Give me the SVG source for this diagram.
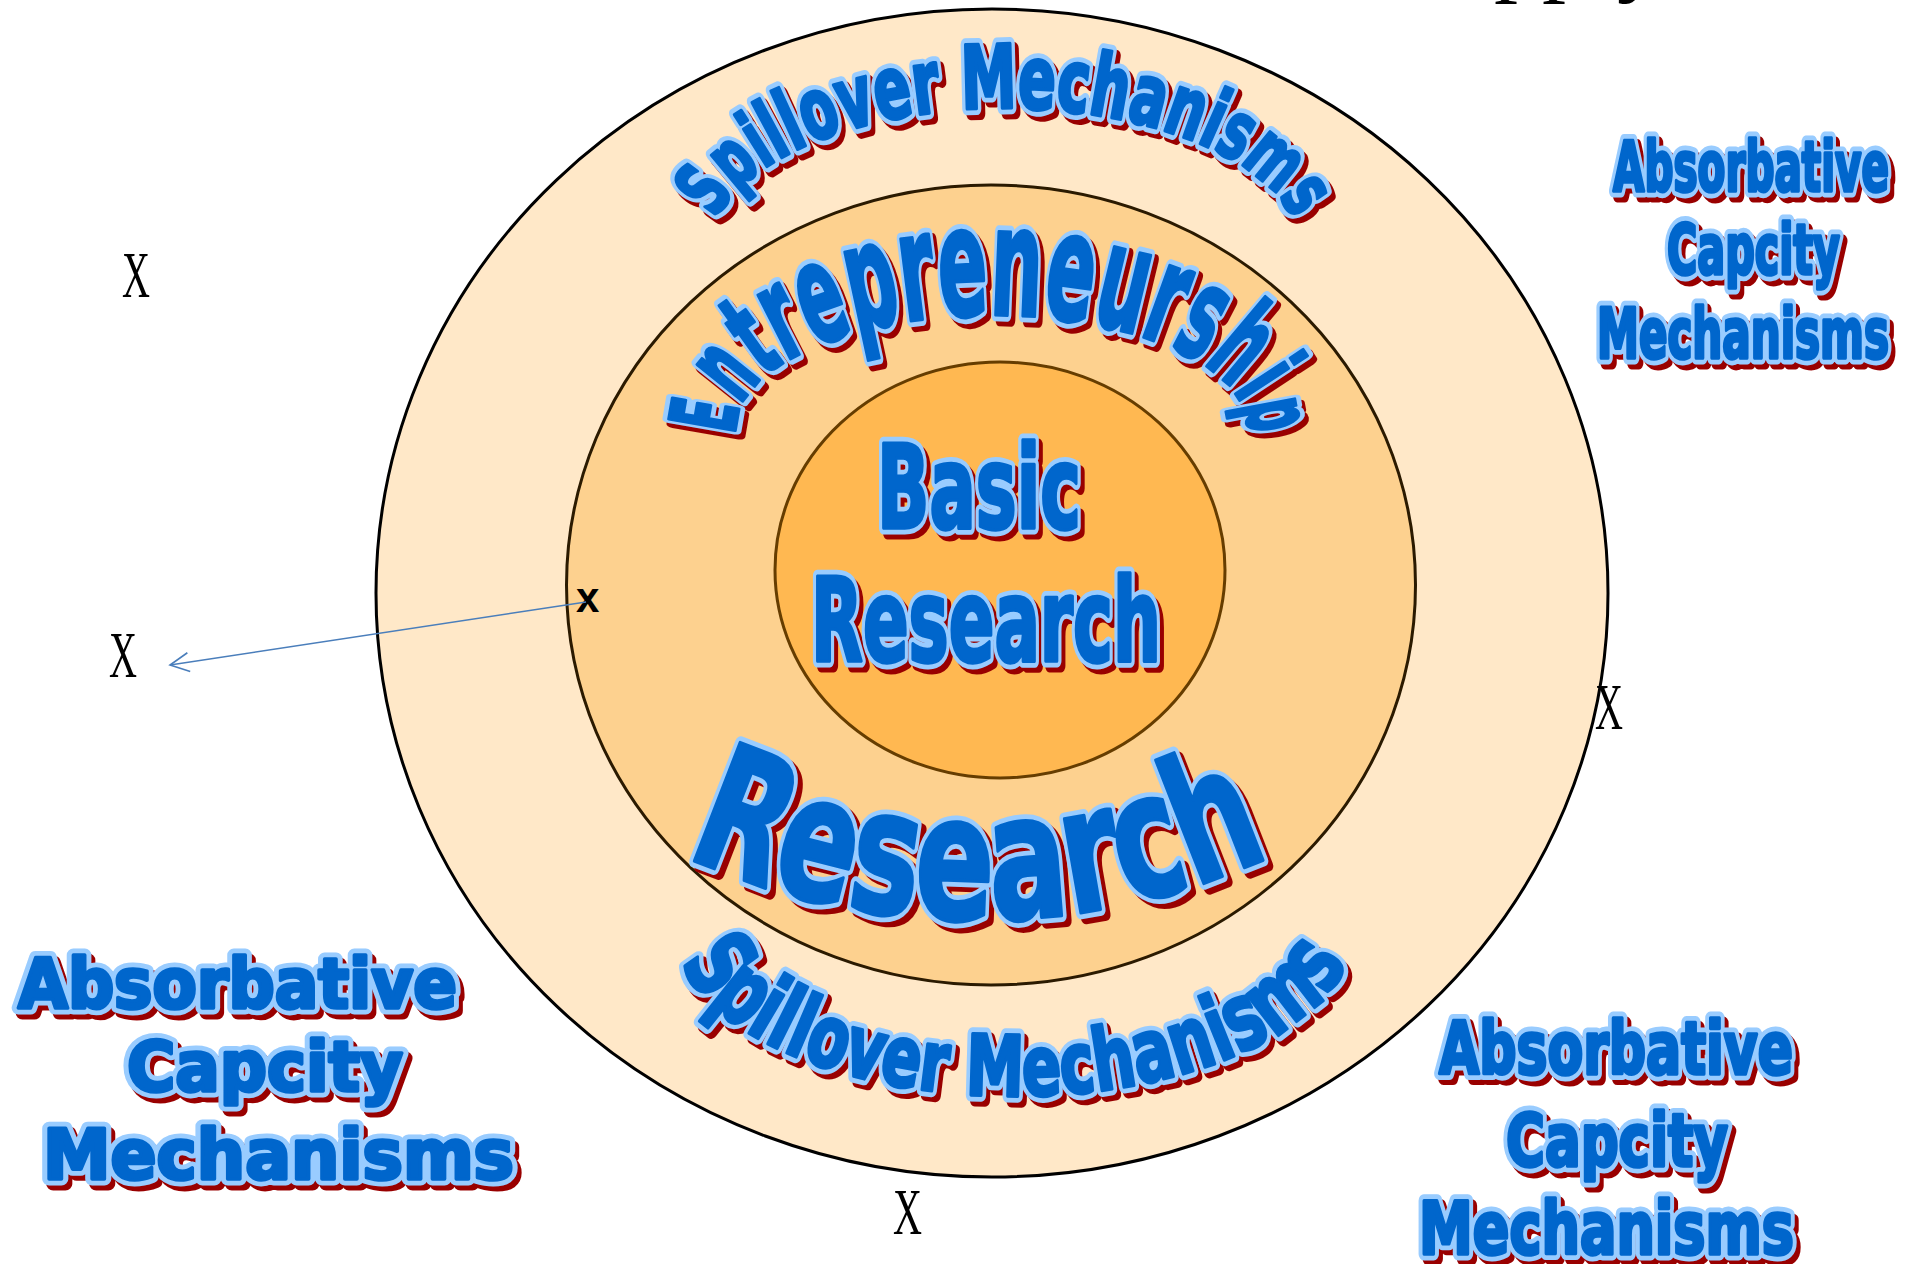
<svg xmlns="http://www.w3.org/2000/svg" width="1907" height="1264" viewBox="0 0 1907 1264">
<style>
  .wa { font-family: "DejaVu Sans Condensed", "DejaVu Sans", "Liberation Sans", sans-serif; font-weight: bold; }
  .shadow { fill: #990000; stroke: #990000; stroke-width: 13; stroke-linejoin: round; }
  .halo { fill: #99CCFF; stroke: #99CCFF; stroke-width: 13; stroke-linejoin: round; }
  .face { fill: #0066CC; stroke: #0066CC; stroke-width: 3.5; stroke-linejoin: round; }
  .mark { font-family: "Liberation Serif", "Times New Roman", serif; font-size: 66px; fill: #000; }
  .ring { stroke-width: 3; }
  .link { fill: none; stroke: #4A7EBB; stroke-width: 1.6; }
</style>
<defs>
  <!-- baselines for the curved captions -->
  <path id="arc-spill-top" d="M 708 253 A 297 145 0 0 1 1302 253"/>
  <path id="arc-entre" d="M 736 429 A 256 114 0 0 1 1248 429"/>
  <path id="arc-research" d="M 576.5 793.4 A 700 700 0 0 0 1379.5 793.4"/>
  <path id="arc-spill-bottom" d="M 673.5 927 A 340.5 169 0 0 0 1354.5 927"/>

  <marker id="open-arrow" markerUnits="userSpaceOnUse" viewBox="-22 -12 24 24" markerWidth="24" markerHeight="24" refX="0" refY="0" orient="auto">
    <path d="M -19 -9.5 L 0 0 L -19 9.5" fill="none" stroke="#4A7EBB" stroke-width="1.6"/>
  </marker>

  <!-- caption shapes, painted three times each (shadow, halo, face) -->
  <text id="txt-spill-top" class="wa" text-anchor="middle"><textPath href="#arc-spill-top" startOffset="50%" textLength="645" lengthAdjust="spacingAndGlyphs"><tspan font-size="76">S</tspan><tspan font-size="78">p</tspan><tspan font-size="80">i</tspan><tspan font-size="82">l</tspan><tspan font-size="84">l</tspan><tspan font-size="85">o</tspan><tspan font-size="86">v</tspan><tspan font-size="87">e</tspan><tspan font-size="88">r</tspan><tspan font-size="88"> </tspan><tspan font-size="88">M</tspan><tspan font-size="88">e</tspan><tspan font-size="87">c</tspan><tspan font-size="86">h</tspan><tspan font-size="85">a</tspan><tspan font-size="84">n</tspan><tspan font-size="82">i</tspan><tspan font-size="80">s</tspan><tspan font-size="78">m</tspan><tspan font-size="76">s</tspan></textPath></text>
  <text id="txt-entre" class="wa" text-anchor="middle"><textPath href="#arc-entre" startOffset="50%" textLength="615" lengthAdjust="spacingAndGlyphs"><tspan font-size="92">E</tspan><tspan font-size="106">n</tspan><tspan font-size="119">t</tspan><tspan font-size="130">r</tspan><tspan font-size="139">e</tspan><tspan font-size="146">p</tspan><tspan font-size="150">r</tspan><tspan font-size="152">e</tspan><tspan font-size="152">n</tspan><tspan font-size="150">e</tspan><tspan font-size="146">u</tspan><tspan font-size="139">r</tspan><tspan font-size="130">s</tspan><tspan font-size="119">h</tspan><tspan font-size="106">i</tspan><tspan font-size="92">p</tspan></textPath></text>
  <text id="txt-research" class="wa" font-size="174" text-anchor="middle"><textPath href="#arc-research" startOffset="50%" textLength="605" lengthAdjust="spacingAndGlyphs">Research</textPath></text>
  <text id="txt-spill-bottom" class="wa" text-anchor="middle"><textPath href="#arc-spill-bottom" startOffset="50%" textLength="750" lengthAdjust="spacingAndGlyphs"><tspan font-size="96">S</tspan><tspan font-size="94">p</tspan><tspan font-size="92">i</tspan><tspan font-size="90">l</tspan><tspan font-size="88">l</tspan><tspan font-size="87">o</tspan><tspan font-size="86">v</tspan><tspan font-size="85">e</tspan><tspan font-size="84">r</tspan><tspan font-size="84"> </tspan><tspan font-size="84">M</tspan><tspan font-size="84">e</tspan><tspan font-size="85">c</tspan><tspan font-size="86">h</tspan><tspan font-size="87">a</tspan><tspan font-size="88">n</tspan><tspan font-size="90">i</tspan><tspan font-size="92">s</tspan><tspan font-size="94">m</tspan><tspan font-size="96">s</tspan></textPath></text>

  <g id="txt-core" class="wa" font-size="115">
    <text x="877" y="528" textLength="204" lengthAdjust="spacingAndGlyphs">Basic</text>
    <text x="811" y="661" textLength="350" lengthAdjust="spacingAndGlyphs">Research</text>
  </g>
  <g id="txt-abs-tr" class="wa" font-size="69">
    <text x="1613" y="191" textLength="276" lengthAdjust="spacingAndGlyphs">Absorbative</text>
    <text x="1667" y="274" textLength="173" lengthAdjust="spacingAndGlyphs">Capcity</text>
    <text x="1597" y="358" textLength="292" lengthAdjust="spacingAndGlyphs">Mechanisms</text>
  </g>
  <g id="txt-abs-br" class="wa" font-size="73">
    <text x="1439" y="1074" textLength="354" lengthAdjust="spacingAndGlyphs">Absorbative</text>
    <text x="1506" y="1166" textLength="222" lengthAdjust="spacingAndGlyphs">Capcity</text>
    <text x="1419" y="1254" textLength="375" lengthAdjust="spacingAndGlyphs">Mechanisms</text>
  </g>
  <g id="txt-abs-bl" class="wa" font-size="70">
    <text x="18" y="1008" textLength="439" lengthAdjust="spacingAndGlyphs">Absorbative</text>
    <text x="127" y="1091" textLength="276" lengthAdjust="spacingAndGlyphs">Capcity</text>
    <text x="43" y="1179" textLength="471" lengthAdjust="spacingAndGlyphs">Mechanisms</text>
  </g>
</defs>

<rect width="1907" height="1264" fill="#FFFFFF"/>

<!-- heading running off the top edge -->
<text x="1494" y="-16" font-family="Liberation Serif, serif" font-size="96" fill="#000">pply</text>

<!-- concentric rings -->
<g id="outer-ring">
  <ellipse class="ring" cx="992" cy="593" rx="616" ry="584" fill="#FFE8C8" stroke="#000000" stroke-width="3.5"/>
</g>
<g id="middle-ring">
  <ellipse class="ring" cx="991" cy="585" rx="424.5" ry="400" fill="#FDD18F" stroke="#2B1A00"/>
</g>
<g id="inner-core">
  <ellipse class="ring" cx="1000" cy="570" rx="225" ry="208" fill="#FFB851" stroke="#663D00"/>
</g>

<!-- captions -->
<g id="label-spillover-top">
  <use href="#txt-spill-top" class="shadow" x="4" y="5"/>
  <use href="#txt-spill-top" class="halo"/>
  <use href="#txt-spill-top" class="face"/>
</g>
<g id="label-entrepreneurship">
  <use href="#txt-entre" class="shadow" x="4" y="5"/>
  <use href="#txt-entre" class="halo"/>
  <use href="#txt-entre" class="face"/>
</g>
<g id="label-basic-research">
  <use href="#txt-core" class="shadow" x="4" y="5"/>
  <use href="#txt-core" class="halo"/>
  <use href="#txt-core" class="face"/>
</g>
<g id="label-research">
  <use href="#txt-research" class="shadow" x="5" y="5"/>
  <use href="#txt-research" class="halo"/>
  <use href="#txt-research" class="face"/>
</g>
<g id="label-spillover-bottom">
  <use href="#txt-spill-bottom" class="shadow" x="4" y="5"/>
  <use href="#txt-spill-bottom" class="halo"/>
  <use href="#txt-spill-bottom" class="face"/>
</g>
<g id="label-absorbative-top-right">
  <use href="#txt-abs-tr" class="shadow" x="4" y="5"/>
  <use href="#txt-abs-tr" class="halo"/>
  <use href="#txt-abs-tr" class="face"/>
</g>
<g id="label-absorbative-bottom-right">
  <use href="#txt-abs-br" class="shadow" x="4" y="5"/>
  <use href="#txt-abs-br" class="halo"/>
  <use href="#txt-abs-br" class="face"/>
</g>
<g id="label-absorbative-bottom-left">
  <use href="#txt-abs-bl" class="shadow" x="4" y="5"/>
  <use href="#txt-abs-bl" class="halo"/>
  <use href="#txt-abs-bl" class="face"/>
</g>

<!-- X markers -->
<g id="mark-top-left"><text class="mark" x="122" y="297" textLength="28" lengthAdjust="spacingAndGlyphs">X</text></g>
<g id="mark-left"><text class="mark" x="109" y="677" textLength="28" lengthAdjust="spacingAndGlyphs">X</text></g>
<g id="mark-right"><text class="mark" x="1595" y="729" textLength="28" lengthAdjust="spacingAndGlyphs">X</text></g>
<g id="mark-bottom"><text class="mark" x="893" y="1234" textLength="29" lengthAdjust="spacingAndGlyphs">X</text></g>
<g id="mark-source"><text x="576" y="612" font-family="Liberation Sans, Arial, sans-serif" font-size="42" font-weight="bold" fill="#000">x</text></g>

<!-- connectors -->
<g id="connectors">
  <line class="link" x1="586" y1="602" x2="170" y2="665" marker-end="url(#open-arrow)"/>
</g>
</svg>
